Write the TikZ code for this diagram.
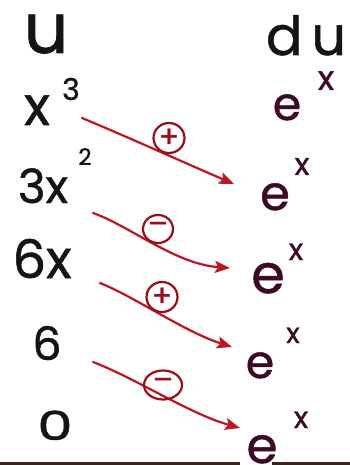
\documentclass[tikz,border=0pt]{standalone}
\usepackage{fontspec}
\setmainfont{Poppins}[FakeBold=1.0]
\usetikzlibrary{arrows.meta,shapes.geometric}
\definecolor{ink}{HTML}{141414}
\definecolor{plum}{HTML}{3C0A26}
\definecolor{pen}{HTML}{BE161E}
\definecolor{ring}{HTML}{9A0E1A}
\definecolor{edge}{HTML}{3A2218}
\newcommand{\fs}[1]{\fontsize{#1}{#1}\selectfont}
\tikzset{
  lbl/.style={inner sep=0pt, anchor=base, text=ink},
  ex/.style={inner sep=0pt, anchor=base, text=plum},
  sgn/.style={draw=ring, line width=2.2pt, inner sep=0pt, ellipse, text=ring, font=\fs{30}},
  link/.style={draw=pen, line width=2.2pt, line cap=round,
    -{Stealth[length=15pt,width=12pt,inset=3pt]}},
}
\begin{document}
\begin{tikzpicture}[x=1pt,y=-1pt]
\fill[white] (0,0) rectangle (350,465);
\useasboundingbox (0,0) rectangle (350,465);
\fill[edge] (0,461.5) rectangle (240,465);
\fill[edge] (272,461.5) rectangle (350,465);
% left column
\node[lbl, font=\fs{70}] (u) at (46,53) {u};
\node[lbl, font=\fs{54}] (x3) at (37,125) {x};
\node[lbl, font=\fs{30}] (x3e) at (71,100) {3};
\node[lbl, font=\fs{47}] (x2) at (43,203) {3x};
\node[lbl, font=\fs{23}] (x2e) at (85,165) {2};
\node[lbl, font=\fs{53}] (x1) at (42,278) {6x};
\node[lbl, font=\fs{46}] (c6) at (47,360) {6};
\node[lbl, font=\fs{40}] (z0) at (55,440) {\scalebox{1.4}[1]{0}};
% right column
\node[lbl, font=\fs{54}] (du) at (306,55) {d\kern9pt u};
\node[ex, font=\fs{46}] (e1) at (287,120) {e};
\node[ex, font=\fs{34}] (x1e) at (326,90) {x};
\node[ex, font=\fs{48}] (e2) at (275,210) {e};
\node[ex, font=\fs{31}] (x2ee) at (302,175) {x};
\node[ex, font=\fs{54}] (e3) at (268,293) {e};
\node[ex, font=\fs{30}] (x3ee) at (296,260) {x};
\node[ex, font=\fs{46}] (e4) at (260,378) {e};
\node[ex, font=\fs{28}] (x4e) at (293,343) {x};
\node[ex, font=\fs{50}] (e5) at (262,463) {e};
\node[ex, font=\fs{30}] (x5e) at (301,428) {x};
% arrows
\coordinate (s1) at (82,118); \coordinate (t1) at (234,184);
\coordinate (s2) at (93,213); \coordinate (t2) at (230,268);
\coordinate (s3) at (100,283); \coordinate (t3) at (232,347);
\coordinate (s4) at (93,362); \coordinate (t4) at (240,428);
\draw[link] (s1) .. controls (130,138) and (185,163) .. (t1);
\draw[link] (s2) .. controls (130,226) and (175,264) .. (t2);
\draw[link] (s3) .. controls (135,297) and (185,332) .. (t3);
\draw[link] (s4) .. controls (135,378) and (190,414) .. (t4);
% signs
\node[sgn, minimum width=31pt, minimum height=30pt] (p1) at (169,138) {+};
\node[sgn, minimum width=30pt, minimum height=28pt] (m1) at (158,229) {\raisebox{2pt}{–}};
\node[sgn, minimum width=31pt, minimum height=30pt] (p2) at (162,297) {+};
\node[sgn, minimum width=38pt, minimum height=29pt] (m2) at (163,385) {\raisebox{2pt}{–}};
\end{tikzpicture}
\end{document}
